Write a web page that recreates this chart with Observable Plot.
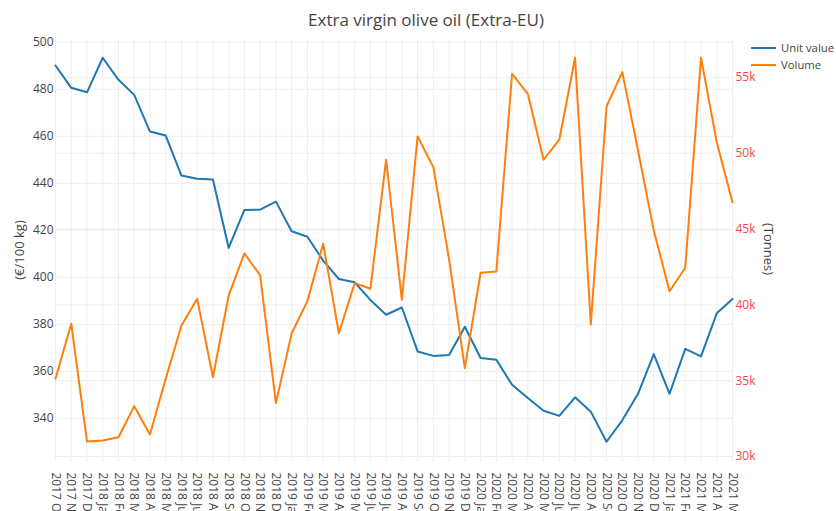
<!DOCTYPE html>
<html>
<head>
<meta charset="utf-8">
<script src="https://cdn.jsdelivr.net/npm/d3@7"></script>
<script src="https://cdn.jsdelivr.net/npm/@observablehq/plot@0.6"></script>
<style>
  html, body { margin: 0; padding: 0; background: #fff; overflow: hidden; }
  #chart svg { font-family: "Open Sans", "DejaVu Sans", sans-serif; }
</style>
</head>
<body>
<div id="chart"></div>
<script>
const months = ["2017 Oct","2017 Nov","2017 Dec",
  "2018 Jan","2018 Feb","2018 Mar","2018 Apr","2018 May","2018 Jun","2018 Jul","2018 Aug","2018 Sep","2018 Oct","2018 Nov","2018 Dec",
  "2019 Jan","2019 Feb","2019 Mar","2019 Apr","2019 May","2019 Jun","2019 Jul","2019 Aug","2019 Sep","2019 Oct","2019 Nov","2019 Dec",
  "2020 Jan","2020 Feb","2020 Mar","2020 Apr","2020 May","2020 Jun","2020 Jul","2020 Aug","2020 Sep","2020 Oct","2020 Nov","2020 Dec",
  "2021 Jan","2021 Feb","2021 Mar","2021 Apr","2021 May"];

const unitValue = [490.1, 480.6, 478.7, 493.4, 484.0, 477.6, 462.0, 460.3, 443.3, 441.9, 441.6, 412.5, 428.7, 428.8, 432.2,
  419.6, 417.3, 407.1, 399.3, 397.9, 390.4, 384.1, 387.2, 368.5, 366.6, 367.0, 379.0,
  365.7, 365.0, 354.3, 348.7, 343.3, 341.1, 349.0, 342.9, 330.1, 339.2, 350.5, 367.4,
  350.5, 369.6, 366.4, 384.7, 390.8];

const volume = [35130, 38750, 30990, 31060, 31270, 33320, 31450, 35130, 38640, 40400, 35230, 40620, 43390, 41940, 33520,
  38130, 40250, 44030, 38130, 41430, 41060, 49570, 40340, 51110, 49080, 43000, 35830,
  42120, 42200, 55240, 53920, 49570, 50890, 56300, 38710, 53090, 55350, 50180, 44910,
  40900, 42450, 56300, 50730, 46770];

const leftTicks = [340, 360, 380, 400, 420, 440, 460, 480, 500];
const rightTicks = [30000, 35000, 40000, 45000, 50000, 55000];
const rightTickLabels = ["30k", "35k", "40k", "45k", "50k", "55k"];

const title = "Extra virgin olive oil (Extra-EU)";
const leftTitle = "(€/100 kg)";
const rightTitle = "(Tonnes)";
const seriesNames = ["Unit value", "Volume"];
const colors = ["#1f77b4", "#ff7f0e"];

const leftDomain = [321.7, 501.15];
const rightDomain = [29670, 57500];
// map right-axis values into left-axis units (dual axis)
const toLeft = d3.scaleLinear().domain(rightDomain).range(leftDomain);

const data = months.map((m, i) => ({month: m, unit: unitValue[i], vol: volume[i]}));

const W = 836, H = 511;
const chart = Plot.plot({
  width: W,
  height: H,
  marginLeft: 55,
  marginRight: 104,
  marginTop: 39,
  marginBottom: 50,
  style: {fontFamily: "'Open Sans', 'DejaVu Sans', sans-serif", fontSize: "12px", color: "#444", background: "#fff"},
  x: {type: "point", domain: months, padding: 0},
  y: {domain: leftDomain},
  marks: [
    Plot.gridX(months, {stroke: "#eeeeee", strokeOpacity: 1, strokeWidth: 1}),
    Plot.gridY(leftTicks, {stroke: "#eeeeee", strokeOpacity: 1, strokeWidth: 1}),
    Plot.gridY(rightTicks.map(toLeft), {stroke: "#eeeeee", strokeOpacity: 1, strokeWidth: 1}),
    Plot.axisX({tickRotate: 90, tickSize: 0, tickPadding: 11, label: null, fontSize: 12, fill: "#444"}),
    Plot.axisY(leftTicks, {tickSize: 0, tickPadding: 2, label: null, fontSize: 12, fill: "#444"}),
    Plot.axisY(rightTicks.map(toLeft), {
      anchor: "right", tickSize: 0, tickPadding: 3, label: null, fontSize: 12, fill: "#f04848",
      tickFormat: (d, i) => rightTickLabels[i]
    }),
    Plot.line(data, {x: "month", y: "unit", stroke: colors[0], strokeWidth: 2}),
    Plot.line(data, {x: "month", y: d => toLeft(d.vol), stroke: colors[1], strokeWidth: 2}),
    () => {
      const g = d3.create("svg:g").attr("font-family", "'Open Sans', 'DejaVu Sans', sans-serif").attr("fill", "#444");
      g.append("text").attr("x", 426).attr("y", 20).attr("dy", "0.35em").attr("text-anchor", "middle")
        .attr("font-size", 17).text(title);
      g.append("text").attr("transform", "translate(19,250) rotate(-90)").attr("dy", "0.35em")
        .attr("text-anchor", "middle").attr("font-size", 13).text(leftTitle);
      g.append("text").attr("transform", "translate(769,249) rotate(90)").attr("dy", "0.35em")
        .attr("text-anchor", "middle").attr("font-size", 13).text(rightTitle);
      seriesNames.forEach((name, i) => {
        const y = 48 + i * 17;
        g.append("line").attr("x1", 751).attr("x2", 776).attr("y1", y).attr("y2", y)
          .attr("stroke", colors[i]).attr("stroke-width", 2);
        g.append("text").attr("x", 781).attr("y", y).attr("dy", "0.35em").attr("text-anchor", "start")
          .attr("font-size", 11.3).text(name);
      });
      return g.node();
    }
  ]
});
document.getElementById("chart").append(chart);
</script>
</body>
</html>
